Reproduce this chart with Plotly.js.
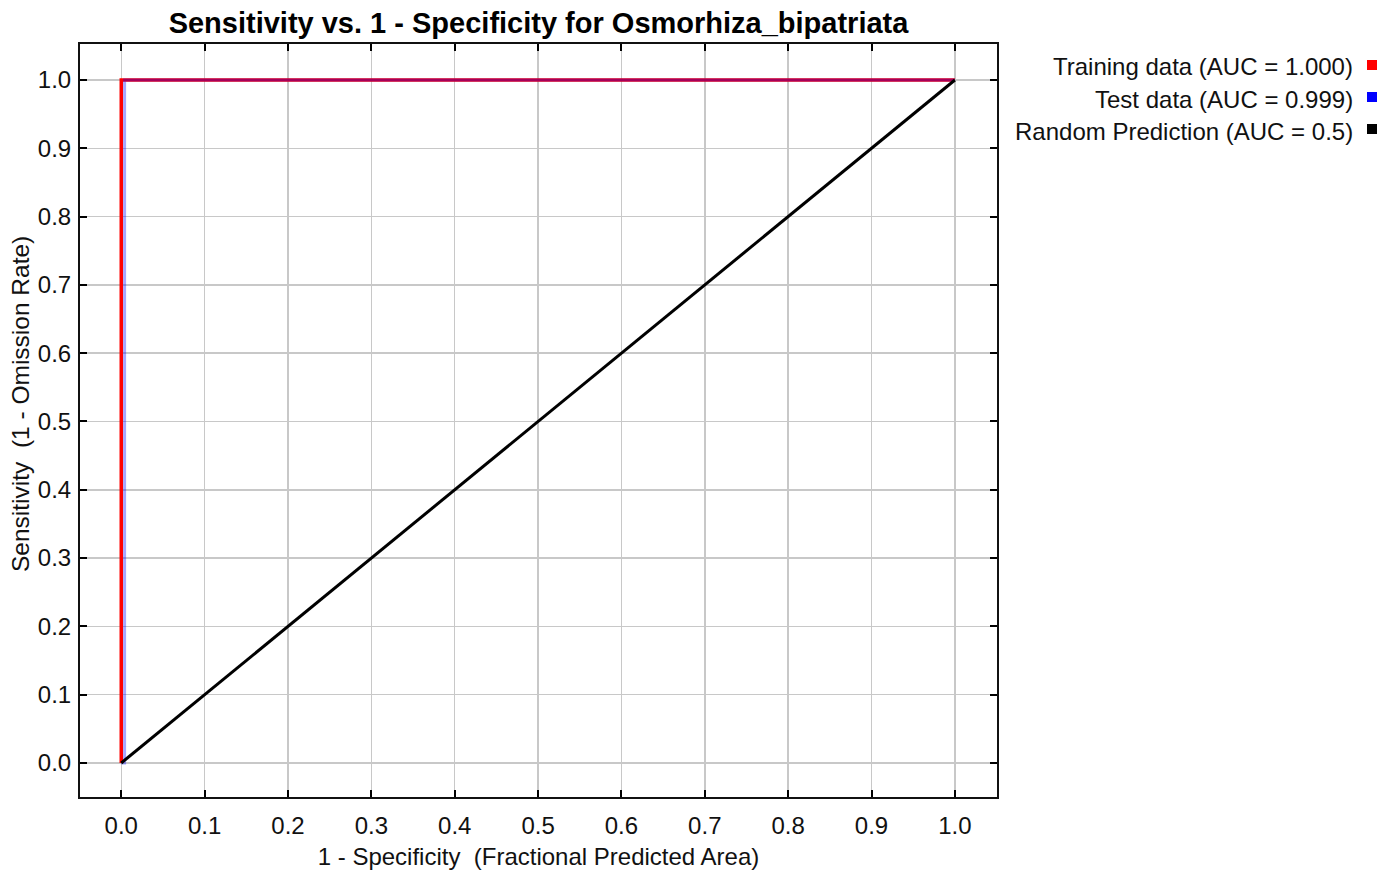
<!DOCTYPE html>
<html>
<head>
<meta charset="utf-8">
<script src="https://cdn.plot.ly/plotly-3.0.1.min.js"></script>
<style>
  html, body { margin: 0; padding: 0; background: #fff; }
  #chart { width: 1382px; height: 870px; }
</style>
</head>
<body>
<div id="chart"></div>
<script>
// ROC curves for the Osmorhiza_bipatriata model
const trainX = [0, 0, 1];
const trainY = [0, 1, 1];
const testX = [0, 0.004, 0.004, 1];
const testY = [0, 0, 1, 1];
const randomX = [0, 1];
const randomY = [0, 1];

const seriesNames = [
  'Training data (AUC = 1.000)',
  'Test data (AUC = 0.999)',
  'Random Prediction (AUC = 0.5)'
];
const seriesColors = ['#ff0000', '#0000ff', '#000000'];
const tickVals = [0, 0.1, 0.2, 0.3, 0.4, 0.5, 0.6, 0.7, 0.8, 0.9, 1.0];
const tickText = ['0.0', '0.1', '0.2', '0.3', '0.4', '0.5', '0.6', '0.7', '0.8', '0.9', '1.0'];

const W = 1382, H = 870;
const M = { l: 80, r: 385, t: 44, b: 73 };
const plotW = W - M.l - M.r, plotH = H - M.t - M.b;
const px2x = p => (p - M.l) / plotW;
const py2y = p => (H - M.b - p) / plotH;

const FONT = 'Liberation Sans, Arial, sans-serif';

const traces = [
  { x: trainX, y: trainY, mode: 'lines', name: seriesNames[0],
    line: { color: seriesColors[0], width: 3.5 } },
  { x: testX, y: testY, mode: 'lines', name: seriesNames[1], opacity: 0.35,
    line: { color: seriesColors[1], width: 3 } },
  { x: randomX, y: randomY, mode: 'lines', name: seriesNames[2],
    line: { color: seriesColors[2], width: 3 } }
];

// legend at the right: right-aligned label followed by a small swatch
const annotations = [];
const shapes = [];
seriesNames.forEach((name, i) => {
  const rowY = 67 + i * 32;
  annotations.push({
    xref: 'paper', yref: 'paper', x: px2x(1355), y: py2y(rowY),
    xanchor: 'right', yanchor: 'middle', showarrow: false,
    text: name, font: { family: FONT, size: 24, color: '#111' }
  });
  shapes.push({
    type: 'rect', xref: 'paper', yref: 'paper',
    x0: px2x(1367), x1: px2x(1377), y0: py2y(rowY - 7), y1: py2y(rowY + 3),
    fillcolor: seriesColors[i], line: { width: 0 }
  });
});

// vertical axis title
annotations.push({
  xref: 'paper', yref: 'paper', x: px2x(20), y: py2y(404),
  xanchor: 'center', yanchor: 'middle', showarrow: false, textangle: -90,
  text: 'Sensitivity\u00a0 (1 - Omission Rate)',
  font: { family: FONT, size: 24.5, color: '#111' }
});

const axisCommon = {
  tickmode: 'array', tickvals: tickVals, ticktext: tickText,
  ticks: 'inside', ticklen: 7, tickwidth: 2, tickcolor: '#000',
  showline: true, linecolor: '#111', linewidth: 2, mirror: 'ticks',
  showgrid: true, gridcolor: '#c8c8c8', gridwidth: 1.5,
  zeroline: false, fixedrange: true,
  tickfont: { family: FONT, size: 24, color: '#111' }
};

const layout = {
  width: W, height: H,
  margin: M,
  paper_bgcolor: '#fff', plot_bgcolor: '#fff',
  showlegend: false,
  title: {
    text: '<b>Sensitivity vs. 1 - Specificity for Osmorhiza_bipatriata</b>',
    font: { family: FONT, size: 29, color: '#000' },
    x: 0.5, xref: 'paper', xanchor: 'center',
    y: 1 - 23 / H, yref: 'container', yanchor: 'middle'
  },
  xaxis: Object.assign({}, axisCommon, {
    range: [-0.0495, 1.0505],
    ticklabelstandoff: 6,
    title: { text: '1 - Specificity\u00a0 (Fractional Predicted Area)',
             font: { family: FONT, size: 24, color: '#111' }, standoff: 12 }
  }),
  yaxis: Object.assign({}, axisCommon, {
    range: [-0.0498, 1.0527],
    ticklabelstandoff: 2
  }),
  annotations: annotations,
  shapes: shapes
};

Plotly.newPlot('chart', traces, layout, { displayModeBar: false, staticPlot: true });
</script>
</body>
</html>
